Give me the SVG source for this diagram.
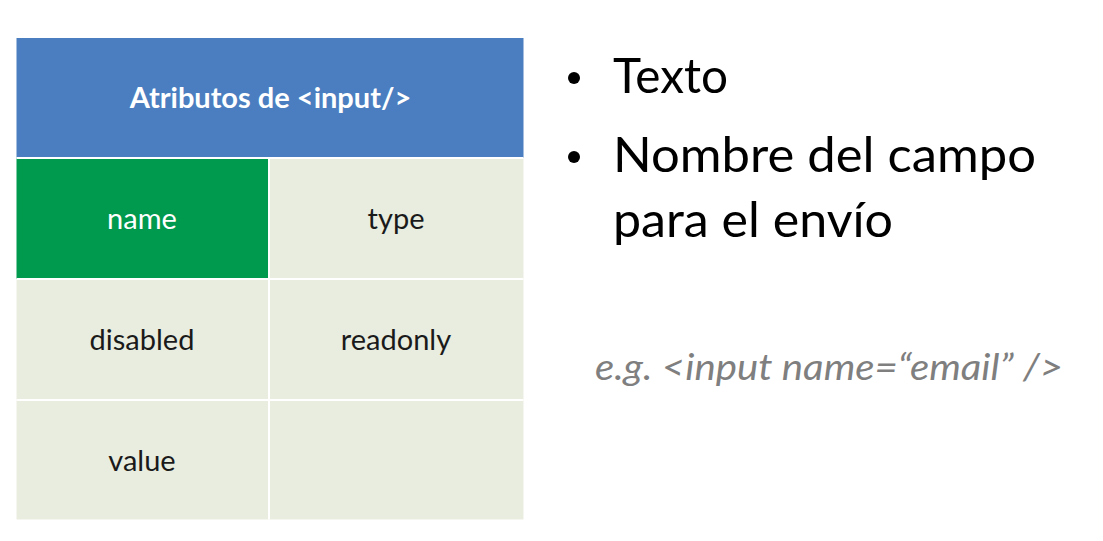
<svg xmlns="http://www.w3.org/2000/svg" width="1103" height="541" viewBox="0 0 1103 541">
<style>
.cell{fill:#E9EDDF}
.grid{stroke:#FFFFFF;stroke-width:2;fill:none}
.t{font-family:Lato,"Liberation Sans",sans-serif;font-size:29px;fill:#1a1a1a;text-anchor:middle}
.b{font-family:Lato,"Liberation Sans",sans-serif;font-size:49px;fill:#000000}
</style>
<rect width="1103" height="541" fill="#FFFFFF"/>
<g id="header">
<rect x="16.5" y="38" width="507" height="120" fill="#4A7EC0"/>
<text x="270.5" y="108" class="t" style="fill:#FFFFFF;font-weight:bold">Atributos de &lt;input/&gt;</text>
</g>
<g id="cell-name">
<rect x="16.5" y="158" width="252.5" height="121" fill="#009A4E"/>
<text x="142" y="229" class="t" style="fill:#FFFFFF">name</text>
</g>
<g id="cell-type">
<rect x="269" y="158" width="254.5" height="121" class="cell"/>
<text x="396" y="229" class="t">type</text>
</g>
<g id="cell-disabled">
<rect x="16.5" y="279" width="252.5" height="121" class="cell"/>
<text x="142" y="350" class="t">disabled</text>
</g>
<g id="cell-readonly">
<rect x="269" y="279" width="254.5" height="121" class="cell"/>
<text x="396" y="350" class="t">readonly</text>
</g>
<g id="cell-value">
<rect x="16.5" y="400" width="252.5" height="119.5" class="cell"/>
<text x="142" y="471" class="t">value</text>
</g>
<g id="cell-empty">
<rect x="269" y="400" width="254.5" height="119.5" class="cell"/>
</g>
<g id="connectors">
<line x1="16.5" y1="158" x2="523.5" y2="158" class="grid"/>
<line x1="16.5" y1="279" x2="523.5" y2="279" class="grid"/>
<line x1="16.5" y1="400" x2="523.5" y2="400" class="grid"/>
<line x1="269" y1="158" x2="269" y2="519.5" class="grid"/>
</g>
<g id="bullets">
<circle cx="574" cy="78" r="6" fill="#000000"/>
<text x="613" y="93" class="b" textLength="115" lengthAdjust="spacingAndGlyphs">Texto</text>
<circle cx="574" cy="157" r="6" fill="#000000"/>
<text x="613" y="172" class="b" textLength="423" lengthAdjust="spacingAndGlyphs">Nombre del campo</text>
<text x="613" y="237" class="b" textLength="280" lengthAdjust="spacingAndGlyphs">para el envío</text>
</g>
<g id="example">
<text x="595" y="380" textLength="468" lengthAdjust="spacingAndGlyphs" style="font-family:Lato,'Liberation Sans',sans-serif;font-size:36px;font-style:italic;fill:#7F7F7F">e.g. &lt;input name=“email” /&gt;</text>
</g>
</svg>
